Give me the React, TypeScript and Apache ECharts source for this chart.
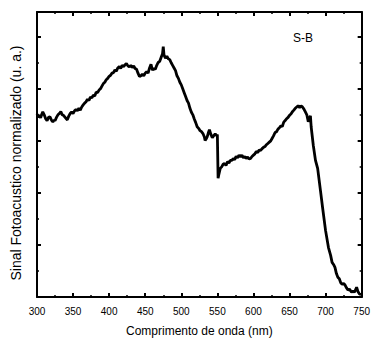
import React, { useEffect, useRef } from "react";
import * as echarts from "echarts";

const wavelength = [
  300, 302, 303, 305, 307, 308, 310, 312, 314, 316, 318, 320, 322, 324, 325, 327, 329, 331, 333,
  335, 337, 339, 341, 342, 344, 346, 348, 350, 352, 354, 356, 358, 360, 362, 364, 366, 368, 370,
  372, 374, 376, 378, 380, 382, 384, 386, 388, 390, 392, 394, 396, 398, 400, 402, 404, 406, 408,
  410, 412, 414, 416, 418, 420, 422, 424, 426, 428, 430, 432, 434, 436, 438, 440, 442, 444, 446,
  448, 450, 452, 454, 456, 458, 460, 462, 464, 466, 468, 470, 472, 474, 475, 476, 478, 480, 482,
  484, 486, 488, 490, 492, 494, 496, 498, 500, 502, 504, 506, 508, 510, 512, 514, 516, 518, 520,
  522, 524, 526, 528, 530, 532, 533, 535, 536, 538, 539, 541, 543, 545, 547, 549, 550, 550.5, 551,
  552, 554, 556, 558, 560, 562, 564, 566, 568, 570, 572, 574, 576, 578, 580, 582, 584, 586, 588,
  590, 592, 594, 596, 598, 600, 602, 604, 606, 608, 610, 612, 614, 616, 618, 620, 622, 624, 626,
  628, 630, 632, 634, 636, 638, 640, 642, 644, 646, 648, 650, 652, 654, 656, 658, 660, 662, 664,
  666, 668, 670, 672, 674, 676, 678, 679, 680, 683, 686, 689, 693, 696, 700, 704, 707, 709, 711,
  713, 715, 717, 719, 721, 723, 725, 727, 729, 731, 733, 736, 738, 740, 742, 743, 745, 747, 750,
];

const signal = [
  0.703, 0.69, 0.7, 0.688, 0.705, 0.711, 0.7, 0.685, 0.677, 0.69, 0.692, 0.68, 0.673, 0.68, 0.677,
  0.69, 0.7, 0.705, 0.712, 0.7, 0.697, 0.69, 0.683, 0.681, 0.695, 0.705, 0.711, 0.705, 0.715, 0.72,
  0.716, 0.725, 0.718, 0.73, 0.738, 0.745, 0.75, 0.76, 0.755, 0.768, 0.765, 0.775, 0.772, 0.787,
  0.785, 0.795, 0.8, 0.81, 0.82, 0.825, 0.835, 0.84, 0.848, 0.852, 0.86, 0.862, 0.872, 0.868,
  0.88, 0.885, 0.878, 0.89, 0.885, 0.892, 0.897, 0.888, 0.884, 0.89, 0.882, 0.888, 0.878, 0.875,
  0.86, 0.847, 0.85, 0.856, 0.85, 0.86, 0.866, 0.86, 0.88, 0.894, 0.872, 0.878, 0.875, 0.89, 0.901,
  0.905, 0.92, 0.935, 0.962, 0.93, 0.918, 0.925, 0.915, 0.912, 0.9, 0.89, 0.88, 0.87, 0.85, 0.84,
  0.825, 0.815, 0.8, 0.785, 0.77, 0.755, 0.745, 0.725, 0.71, 0.7, 0.684, 0.67, 0.654, 0.648, 0.639,
  0.635, 0.628, 0.615, 0.601, 0.61, 0.616, 0.635, 0.643, 0.625, 0.612, 0.62, 0.627, 0.62, 0.624,
  0.624, 0.456, 0.47, 0.494, 0.5, 0.51, 0.513, 0.505, 0.52, 0.515, 0.525, 0.525, 0.532, 0.528,
  0.54, 0.535, 0.545, 0.538, 0.545, 0.535, 0.54, 0.532, 0.538, 0.53, 0.532, 0.54, 0.545, 0.55,
  0.559, 0.555, 0.565, 0.563, 0.57, 0.575, 0.578, 0.585, 0.59, 0.595, 0.6, 0.61, 0.62, 0.632,
  0.635, 0.645, 0.65, 0.658, 0.655, 0.672, 0.678, 0.685, 0.69, 0.698, 0.703, 0.712, 0.718, 0.725,
  0.73, 0.735, 0.728, 0.734, 0.73, 0.722, 0.711, 0.7, 0.673, 0.69, 0.696, 0.654, 0.582, 0.525,
  0.494, 0.407, 0.34, 0.255, 0.19, 0.16, 0.133, 0.125, 0.114, 0.09, 0.076, 0.07, 0.055, 0.049,
  0.052, 0.046, 0.035, 0.027, 0.03, 0.019, 0.022, 0.019, 0.03, 0.038, 0.02, 0.011, 0.01,
];

const xTicks = { min: 300, max: 750, interval: 50 };
const yTicks = { min: 0, max: 1.095, interval: 0.2 };

const xName = "Comprimento de onda (nm)";
const yName = "Sinal Fotoacustico normalizado (u. a.)";
const sampleLabel = "S-B";

export default function App() {
  const ref = useRef<HTMLDivElement>(null);
  useEffect(() => {
    if (!ref.current) return;
    const chart = echarts.init(ref.current, null, { renderer: "svg" });
    const font = "'Liberation Sans', Arial, sans-serif";
    const axisLine = { show: true, onZero: false, lineStyle: { color: "#000", width: 2 } };
    const axisTick = { show: true, inside: true, length: 4, lineStyle: { color: "#000", width: 2 } };
    const minorTick = { show: true, splitNumber: 2, length: 2, lineStyle: { color: "#000", width: 1.5 } };
    const data = wavelength.map((w, i) => [w, signal[i]]);
    chart.setOption({
      animation: false,
      backgroundColor: "#fff",
      textStyle: { fontFamily: font },
      grid: { left: 37, right: 7, top: 12, bottom: 42 },
      xAxis: [
        {
          type: "value",
          position: "bottom",
          ...xTicks,
          axisLine,
          axisTick,
          minorTick,
          splitLine: { show: false },
          axisLabel: { color: "#000", fontSize: 10, fontFamily: font, margin: 9 },
          name: xName,
          nameLocation: "middle",
          nameGap: 28,
          nameTextStyle: { color: "#000", fontSize: 12, fontFamily: font },
        },
        {
          type: "value",
          position: "top",
          ...xTicks,
          axisLine,
          axisTick,
          minorTick,
          splitLine: { show: false },
          axisLabel: { show: false },
        },
      ],
      yAxis: [
        {
          type: "value",
          position: "left",
          ...yTicks,
          axisLine,
          axisTick,
          minorTick,
          splitLine: { show: false },
          axisLabel: { show: false },
        },
        {
          type: "value",
          position: "right",
          ...yTicks,
          axisLine,
          axisTick,
          minorTick,
          splitLine: { show: false },
          axisLabel: { show: false },
        },
      ],
      graphic: [
        {
          type: "text",
          x: 16,
          y: 163,
          rotation: Math.PI / 2,
          style: {
            text: yName,
            fill: "#000",
            font: `14px ${font}`,
            textAlign: "center",
            textVerticalAlign: "middle",
          },
        },
        {
          type: "text",
          x: 303,
          y: 38,
          style: {
            text: sampleLabel,
            fill: "#000",
            font: `12px ${font}`,
            textAlign: "center",
            textVerticalAlign: "middle",
          },
        },
      ],
      series: [
        {
          type: "line",
          data,
          showSymbol: false,
          symbol: "none",
          lineStyle: { color: "#000", width: 2.8 },
          xAxisIndex: 0,
          yAxisIndex: 0,
        },
      ],
    });
    return () => chart.dispose();
  }, []);
  return (
    <div
      ref={ref}
      style={{ position: "absolute", left: 0, top: 0, width: 373, height: 342 }}
    />
  );
}
